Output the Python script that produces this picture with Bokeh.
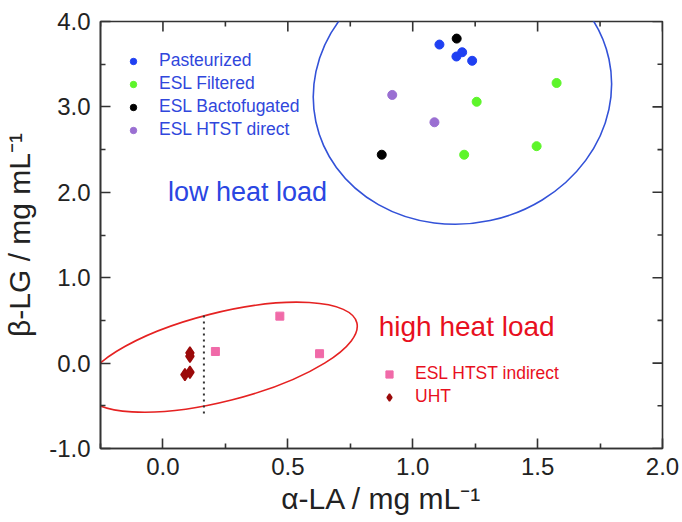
import math
from bokeh.plotting import figure
from bokeh.models import Legend, LegendItem, Label, FixedTicker
from bokeh.embed import file_html
from bokeh.resources import INLINE

# ---- data ----
past_x = [1.107, 1.175, 1.198, 1.238]
past_y = [3.73, 3.59, 3.64, 3.54]
filt_x = [1.576, 1.256, 1.206, 1.496]
filt_y = [3.28, 3.06, 2.44, 2.54]
bact_x = [1.176, 0.876]
bact_y = [3.80, 2.44]
direct_x = [0.918, 1.087]
direct_y = [3.14, 2.82]
indirect_x = [0.21, 0.468, 0.627]
indirect_y = [0.136, 0.55, 0.11]
uht_x = [0.108, 0.108, 0.088, 0.108]
uht_y = [0.12, 0.08, -0.134, -0.107]

# confidence ellipses: centre, full width/height (data units), angle (rad)
ell_x = [1.199, 0.231]
ell_y = [3.192, 0.069]
ell_w = [1.20, 1.125]
ell_h = [3.115, 1.035]
ell_a = [0.21, 0.248]

# dotted separator
sep_x = [0.164]
sep_y0 = [-0.59]
sep_y1 = [0.60]

x_lim = (-0.25, 2.0)
y_lim = (-1.0, 4.0)
x_ticks = [0.0, 0.5, 1.0, 1.5, 2.0]
x_tick_labels = ["0.0", "0.5", "1.0", "1.5", "2.0"]
x_minor = [-0.25, 0.25, 0.75, 1.25, 1.75]
y_ticks = [-1.0, 0.0, 1.0, 2.0, 3.0, 4.0]
y_tick_labels = ["-1.0", "0.0", "1.0", "2.0", "3.0", "4.0"]
y_minor = [-0.5, 0.5, 1.5, 2.5, 3.5]

FONT = "Liberation Sans"
AX = "#333333"
BLUE_T = "#3047dc"
RED_T = "#e8101e"
UHT_C = "#9b0a0a"

p = figure(width=680, height=520, x_range=x_lim, y_range=y_lim,
           output_backend="svg", toolbar_location=None,
           min_border_left=100, min_border_right=18, min_border_top=21, min_border_bottom=72)
p.xgrid.visible = False
p.ygrid.visible = False
p.outline_line_color = AX
p.outline_line_width = 1.6
p.background_fill_color = "white"
p.border_fill_color = "white"

bx = p.below[0]
ly = p.left[0]
bx.ticker = FixedTicker(ticks=x_ticks, minor_ticks=x_minor)
ly.ticker = FixedTicker(ticks=y_ticks, minor_ticks=y_minor)
for ax in [bx, ly]:
    ax.major_tick_in = 10
    ax.major_tick_out = 0
    ax.minor_tick_in = 5
    ax.minor_tick_out = 0
    ax.axis_line_color = AX
    ax.axis_line_width = 1.6
    ax.major_tick_line_color = AX
    ax.major_tick_line_width = 1.6
    ax.minor_tick_line_color = AX
    ax.minor_tick_line_width = 1.6
    ax.major_label_text_font = FONT
    ax.major_label_text_color = "#222222"
    ax.major_label_text_font_size = "24px"
    ax.axis_label_text_font = FONT
    ax.axis_label_text_font_style = "normal"
    ax.axis_label_text_color = "#222222"
    ax.axis_label_text_font_size = "30px"

bx.major_label_overrides = dict(zip(x_ticks, x_tick_labels))
ly.major_label_overrides = dict(zip(y_ticks, y_tick_labels))
bx.major_label_standoff = 9
ly.major_label_standoff = 10
bx.axis_label = "\u03b1-LA / mg mL\u207b\u00b9"
ly.axis_label = "\u03b2-LG / mg mL\u207b\u00b9"
bx.axis_label_standoff = 4
ly.axis_label_standoff = 10

# mirrored inward ticks on the top and right frame edges (clipped to the frame)
tick_kw = dict(marker="dash", line_color=AX, line_width=1.6)
p.scatter(x=x_ticks, y=[y_lim[1]] * len(x_ticks), size=20, angle=math.pi / 2, **tick_kw)
p.scatter(x=x_minor, y=[y_lim[1]] * len(x_minor), size=10, angle=math.pi / 2, **tick_kw)
p.scatter(x=[x_lim[1]] * len(y_ticks), y=y_ticks, size=20, angle=0, **tick_kw)
p.scatter(x=[x_lim[1]] * len(y_minor), y=y_minor, size=10, angle=0, **tick_kw)

# ellipses
p.ellipse(x=ell_x[:1], y=ell_y[:1], width=ell_w[:1], height=ell_h[:1], angle=ell_a[:1],
          fill_color=None, line_color="#3352d8", line_width=1.6)
p.ellipse(x=ell_x[1:], y=ell_y[1:], width=ell_w[1:], height=ell_h[1:], angle=ell_a[1:],
          fill_color=None, line_color="#e52222", line_width=1.6)

p.segment(x0=sep_x, y0=sep_y0, x1=sep_x, y1=sep_y1, line_color="#333333",
          line_width=2, line_dash="2 4")

r_past = p.scatter(past_x, past_y, marker="circle", size=9, fill_color="#1f40f2", line_color="#1f40f2")
r_filt = p.scatter(filt_x, filt_y, marker="circle", size=9, fill_color="#5df52a", line_color="#5df52a")
r_bact = p.scatter(bact_x, bact_y, marker="circle", size=9, fill_color="#000000", line_color="#000000")
r_dir = p.scatter(direct_x, direct_y, marker="circle", size=9, fill_color="#9a6fd2", line_color="#9a6fd2")
r_ind = p.scatter(indirect_x, indirect_y, marker="square", size=8, fill_color="#f06aa8", line_color="#f06aa8")
r_uht = p.scatter(uht_x, uht_y, marker="diamond", size=12, fill_color=UHT_C, line_color=UHT_C,
                  line_width=1.5)

leg1 = Legend(items=[LegendItem(label="Pasteurized", renderers=[r_past]),
                     LegendItem(label="ESL Filtered", renderers=[r_filt]),
                     LegendItem(label="ESL Bactofugated", renderers=[r_bact]),
                     LegendItem(label="ESL HTST direct", renderers=[r_dir])],
              location=(25, 308))
leg2 = Legend(items=[LegendItem(label="ESL HTST indirect", renderers=[r_ind]),
                     LegendItem(label="UHT", renderers=[r_uht])],
              location=(280, 41))
for lg, col, g, st in [(leg1, BLUE_T, 16, 18), (leg2, RED_T, 18, 17)]:
    lg.background_fill_alpha = 0
    lg.border_line_color = None
    lg.padding = 0
    lg.margin = 0
    lg.spacing = 2
    lg.glyph_width = g
    lg.glyph_height = g
    lg.label_height = 20
    lg.label_standoff = st
    lg.label_text_font = FONT
    lg.label_text_font_size = "17.5px"
    lg.label_text_color = col
    p.add_layout(lg)

p.add_layout(Label(x=0.02, y=2.0, text="low heat load", text_font=FONT, text_font_size="27px",
                   text_color="#2a46e2", text_baseline="middle", text_align="left"))
p.add_layout(Label(x=0.864, y=0.43, text="high heat load", text_font=FONT, text_font_size="28px",
                   text_color=RED_T, text_baseline="middle", text_align="left"))

open("out.html", "w").write(file_html(p, INLINE))
